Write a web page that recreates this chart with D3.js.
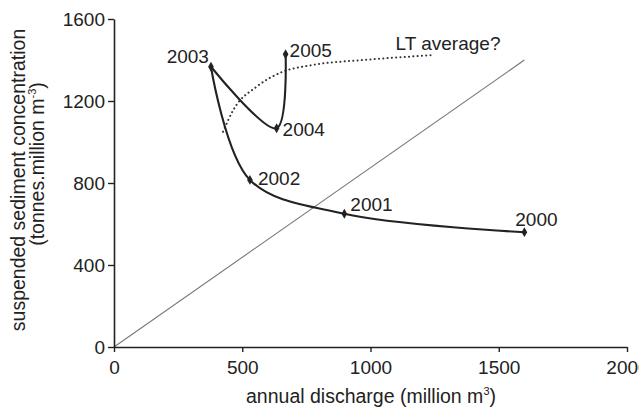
<!DOCTYPE html>
<html>
<head>
<meta charset="utf-8">
<script src="https://cdn.jsdelivr.net/npm/d3@7"></script>
<style>
  body { margin: 0; background: #fff; }
  text { font-family: "Liberation Sans", Arial, sans-serif; fill: #222; }
</style>
</head>
<body>
<div id="chart"></div>
<script>
// values
var years = [2000, 2001, 2002, 2003, 2004, 2005];
var discharge = [1600, 898, 530, 378, 634, 669];          // million m3
var concentration = [560, 650, 815, 1367, 1067, 1428];    // tonnes per million m3

// the dotted "LT average?" guess
var ltDischarge = [425, 465, 556, 647, 776, 971, 1193, 1240];
var ltConcentration = [1050, 1156, 1270, 1337, 1376, 1400, 1420, 1424];

// thin reference line
var refDischarge = [0, 1600];
var refConcentration = [0, 1400];

var xTicks = [0, 500, 1000, 1500, 2000];
var yTicks = [0, 400, 800, 1200, 1600];

var W = 639, H = 417;
var ink = "#222";

var svg = d3.select("#chart").append("svg")
    .attr("width", W)
    .attr("height", H);

var x = d3.scaleLinear().domain([0, 2000]).range([114, 627]);
var y = d3.scaleLinear().domain([0, 1600]).range([347, 19]);

var pts = years.map(function(yr, i) {
    return { year: yr, x: discharge[i], y: concentration[i] };
});

// reference diagonal
svg.append("line")
    .attr("x1", x(refDischarge[0])).attr("y1", y(refConcentration[0]))
    .attr("x2", x(refDischarge[1])).attr("y2", y(refConcentration[1]))
    .style("stroke", "#777")
    .style("stroke-width", 1.1);

// dotted long-term curve
var lt = ltDischarge.map(function(d, i) { return [d, ltConcentration[i]]; });
svg.append("path")
    .datum(lt)
    .attr("d", d3.line()
        .x(function(d) { return x(d[0]); })
        .y(function(d) { return y(d[1]); })
        .curve(d3.curveMonotoneX))
    .style("fill", "none")
    .style("stroke", "#333")
    .style("stroke-width", 2)
    .style("stroke-linecap", "round")
    .style("stroke-dasharray", "0.1 4.2");

// the year track, split at 2003 where it turns sharply
var track = d3.line()
    .x(function(d) { return x(d.x); })
    .y(function(d) { return y(d.y); })
    .curve(d3.curveCatmullRom.alpha(0.5));

[pts.slice(0, 4), pts.slice(3)].forEach(function(seg) {
    svg.append("path")
        .datum(seg)
        .attr("d", track)
        .style("fill", "none")
        .style("stroke", ink)
        .style("stroke-width", 2.1);
});

svg.selectAll(".pt")
    .data(pts)
  .enter().append("path")
    .attr("class", "pt")
    .attr("transform", function(d) { return "translate(" + x(d.x) + "," + y(d.y) + ")"; })
    .attr("d", d3.symbol().type(d3.symbolDiamond).size(28))
    .style("fill", ink);

// label offsets per year: [dx, dy, anchor]
var labelPos = {
    2000: [12, -6, "middle"],
    2001: [6, -3, "start"],
    2002: [8, 5, "start"],
    2003: [-2, -4, "end"],
    2004: [6, 8, "start"],
    2005: [4, 3, "start"]
};

svg.selectAll(".yr")
    .data(pts)
  .enter().append("text")
    .attr("class", "yr")
    .attr("x", function(d) { return x(d.x) + labelPos[d.year][0]; })
    .attr("y", function(d) { return y(d.y) + labelPos[d.year][1]; })
    .attr("text-anchor", function(d) { return labelPos[d.year][2]; })
    .style("font-size", "19px")
    .text(function(d) { return d.year; });

svg.append("text")
    .attr("x", 448).attr("y", 50)
    .attr("text-anchor", "middle")
    .style("font-size", "19px")
    .text("LT average?");

// axes
var xAxis = svg.append("g")
    .attr("transform", "translate(0," + y(0) + ")")
    .call(d3.axisBottom(x).tickValues(xTicks).tickFormat(d3.format("d"))
        .tickSize(5).tickPadding(9).tickSizeOuter(0));
var yAxis = svg.append("g")
    .attr("transform", "translate(" + x(0) + ",0)")
    .call(d3.axisLeft(y).tickValues(yTicks).tickFormat(d3.format("d"))
        .tickSize(6).tickPadding(3).tickSizeOuter(0));

[xAxis, yAxis].forEach(function(g) {
    g.selectAll(".domain").style("stroke", ink).style("stroke-width", 1.6);
    g.selectAll(".tick line").style("stroke", ink).style("stroke-width", 1.4);
    g.selectAll(".tick text")
        .style("font-family", "'Liberation Sans', Arial, sans-serif")
        .style("font-size", "19px")
        .style("fill", ink);
});

// axis titles
var xt = svg.append("text")
    .attr("x", 371).attr("y", 403)
    .attr("text-anchor", "middle")
    .style("font-size", "19.5px");
xt.append("tspan").text("annual discharge (million m");
xt.append("tspan").attr("dy", -8).style("font-size", "11px").text("3");
xt.append("tspan").attr("dy", 8).text(")");

svg.append("text")
    .attr("transform", "translate(25,180) rotate(-90)")
    .attr("text-anchor", "middle")
    .style("font-size", "19.5px")
    .text("suspended sediment concentration");

var yt = svg.append("text")
    .attr("transform", "translate(44,164) rotate(-90)")
    .attr("text-anchor", "middle")
    .style("font-size", "19.5px");
yt.append("tspan").text("(tonnes.million m");
yt.append("tspan").attr("dy", -8).style("font-size", "11px").text("-3");
yt.append("tspan").attr("dy", 8).text(")");
</script>
</body>
</html>
